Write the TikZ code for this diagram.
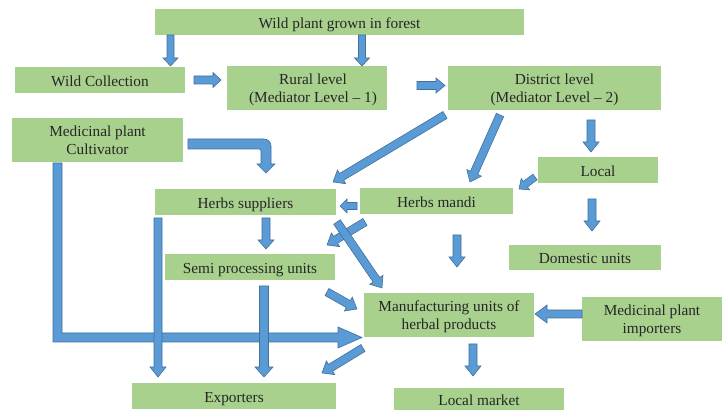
\documentclass[tikz,border=0pt]{standalone}
\usepackage{fontspec}
\setmainfont{Liberation Serif}
\usetikzlibrary{calc}
\definecolor{boxgreen}{HTML}{A9D18E}
\definecolor{arrfill}{HTML}{5B9BD5}
\definecolor{arrline}{HTML}{41719C}
\definecolor{txt}{HTML}{262626}
\tikzset{
  box/.style={fill=boxgreen, draw=none, inner sep=0pt, align=center, text=txt,
    font=\fontsize{15.3}{17.5}\selectfont, text height=12.5pt, text depth=0pt},
  box2/.style={box, text height=29pt, text depth=0pt},
  barrow/.style={fill=arrfill, draw=arrline, line width=0.6pt, line join=miter}
}
% block arrow: start, tip, shaft half width, head half width, head length
\newcommand\blockarrow[5]{%
  \coordinate (bq) at ($(#2)!#5!(#1)$);
  \filldraw[barrow] ($(#1)!#3!90:(#2)$) -- ($(bq)!#3!90:(#2)$) -- ($(bq)!#4!90:(#2)$)
    -- (#2) -- ($(bq)!#4!-90:(#2)$) -- ($(bq)!#3!-90:(#2)$) -- ($(#1)!#3!-90:(#2)$) -- cycle;}
\begin{document}
\begin{tikzpicture}[x=1pt,y=-1pt]
\fill[white] (0,0) rectangle (723,411);
\useasboundingbox (0,0) rectangle (723,411);

% boxes
\node[box, minimum width=369pt, minimum height=26pt] (wild) at (339.5,22) {Wild plant grown in forest};
\node[box, minimum width=170pt, minimum height=26pt] (wcol) at (100,80) {Wild Collection};
\node[box2, minimum width=160pt, minimum height=44pt] (rural) at (307,88) {\hspace*{12pt}Rural level\\\hspace*{12pt}(Mediator Level – 1)};
\node[box2, minimum width=213pt, minimum height=44pt] (district) at (554.5,88) {District level\\(Mediator Level – 2)};
\node[box2, minimum width=171pt, minimum height=44pt] (cult) at (97.5,140) {Medicinal plant\\Cultivator};
\node[box, minimum width=120pt, minimum height=26pt] (local) at (598,170) {Local};
\node[box, minimum width=181pt, minimum height=26pt] (hsup) at (245.5,202) {Herbs suppliers};
\node[box, minimum width=153pt, minimum height=26pt] (hmandi) at (436.5,201) {Herbs mandi};
\node[box, minimum width=170pt, minimum height=26pt] (semi) at (250,267) {Semi processing units};
\node[box, minimum width=152pt, minimum height=25pt] (domestic) at (585,257.5) {Domestic units};
\node[box2, minimum width=170pt, minimum height=44pt] (mfg) at (449,315) {Manufacturing units of\\herbal products};
\node[box2, minimum width=140pt, minimum height=44pt] (imp) at (652,319) {Medicinal plant\\importers};
\node[box, minimum width=204pt, minimum height=26pt] (exp) at (234,396) {Exporters};
\node[box, minimum width=170pt, minimum height=22pt] (lmarket) at (479,399) {Local market};

% connector end points
\coordinate (wildA) at (170.5,35);   \coordinate (wcolA) at (170.5,66);
\coordinate (wildB) at (362,35);     \coordinate (ruralA) at (362,66);
\coordinate (wcolR) at (194,80);     \coordinate (ruralL) at (221,80);
\coordinate (ruralR) at (417,85.5);  \coordinate (districtL) at (445,85.5);
\coordinate (districtA) at (445,115); \coordinate (hsupA) at (333,182);
\coordinate (districtB) at (500,115); \coordinate (hmandiA) at (470,182);
\coordinate (districtC) at (591,120); \coordinate (localA) at (591,152);
\coordinate (localB) at (535,177);   \coordinate (hmandiB) at (519,189);
\coordinate (localC) at (592,199);   \coordinate (domesticA) at (592,231);
\coordinate (hmandiC) at (357,206);  \coordinate (hsupB) at (340,206);
\coordinate (hsupC) at (266,218);    \coordinate (semiA) at (266,249);
\coordinate (hsupD) at (158,218);    \coordinate (expA) at (158,377);
\coordinate (semiB) at (264,286);    \coordinate (expB) at (264,377);
\coordinate (hmandiD) at (365,222);  \coordinate (semiC) at (327,245);
\coordinate (hsupE) at (337,222);    \coordinate (mfgA) at (382,288);
\coordinate (semiD) at (327,292);    \coordinate (mfgB) at (357,309);
\coordinate (hmandiE) at (457,235);  \coordinate (mfgC) at (457,267);
\coordinate (mfgD) at (363,348);     \coordinate (expC) at (322,373);
\coordinate (mfgE) at (473,344);     \coordinate (lmarketA) at (473,376);
\coordinate (impA) at (582,314);     \coordinate (mfgF) at (535,314);
\coordinate (cultL) at (57.5,163);   \coordinate (mfgL) at (362,337.5);
\coordinate (cultE) at (188,144);    \coordinate (hsupT) at (266,173);

% L-shaped arrow: cultivator -> manufacturing units
\filldraw[barrow] ($(cultL)+(-4.5,0)$) -- ($(cultL |- mfgL)+(-4.5,4.5)$)
  -- ($(mfgL)+(-24,4.5)$) -- ($(mfgL)+(-24,10.5)$) -- (mfgL) -- ($(mfgL)+(-24,-10.5)$)
  -- ($(mfgL)+(-24,-4.5)$) -- ($(cultL |- mfgL)+(4.5,-4.5)$) -- ($(cultL)+(4.5,0)$) -- cycle;

% elbow arrow: cultivator -> herbs suppliers
\filldraw[barrow] ($(cultE)+(0,5)$) [rounded corners=2pt] -- ($(cultE -| hsupT)+(-5,5)$) [sharp corners]
  -- ($(hsupT)+(-5,-9)$) -- ($(hsupT)+(-9,-9)$) -- (hsupT) -- ($(hsupT)+(9,-9)$)
  -- ($(hsupT)+(5,-9)$) [rounded corners=7pt] -- ($(cultE -| hsupT)+(5,-5)$) [sharp corners]
  -- ($(cultE)+(0,-5)$) -- cycle;

% straight block arrows
\blockarrow{wildA}{wcolA}{3.5pt}{7.5pt}{8pt}
\blockarrow{wildB}{ruralA}{3.5pt}{7.5pt}{8pt}
\blockarrow{wcolR}{ruralL}{4pt}{7.5pt}{8pt}
\blockarrow{ruralR}{districtL}{4pt}{7.5pt}{9pt}
\blockarrow{districtA}{hsupA}{4pt}{8pt}{10pt}
\blockarrow{districtB}{hmandiA}{4pt}{8pt}{10pt}
\blockarrow{districtC}{localA}{4pt}{8pt}{10pt}
\blockarrow{localB}{hmandiB}{3.5pt}{7pt}{8pt}
\blockarrow{localC}{domesticA}{4pt}{8pt}{10pt}
\blockarrow{hmandiC}{hsupB}{3.5pt}{7pt}{7pt}
\blockarrow{hsupC}{semiA}{4pt}{8pt}{9pt}
\blockarrow{hsupD}{expA}{4pt}{8pt}{10pt}
\blockarrow{semiB}{expB}{4.5pt}{9pt}{10pt}
\blockarrow{hmandiD}{semiC}{4pt}{8pt}{10pt}
\blockarrow{hsupE}{mfgA}{4pt}{8pt}{10pt}
\blockarrow{semiD}{mfgB}{4pt}{8pt}{10pt}
\blockarrow{hmandiE}{mfgC}{4pt}{8pt}{10pt}
\blockarrow{mfgD}{expC}{4pt}{8pt}{10pt}
\blockarrow{mfgE}{lmarketA}{4pt}{8pt}{10pt}
\blockarrow{impA}{mfgF}{4pt}{9pt}{12pt}
\end{tikzpicture}
\end{document}
